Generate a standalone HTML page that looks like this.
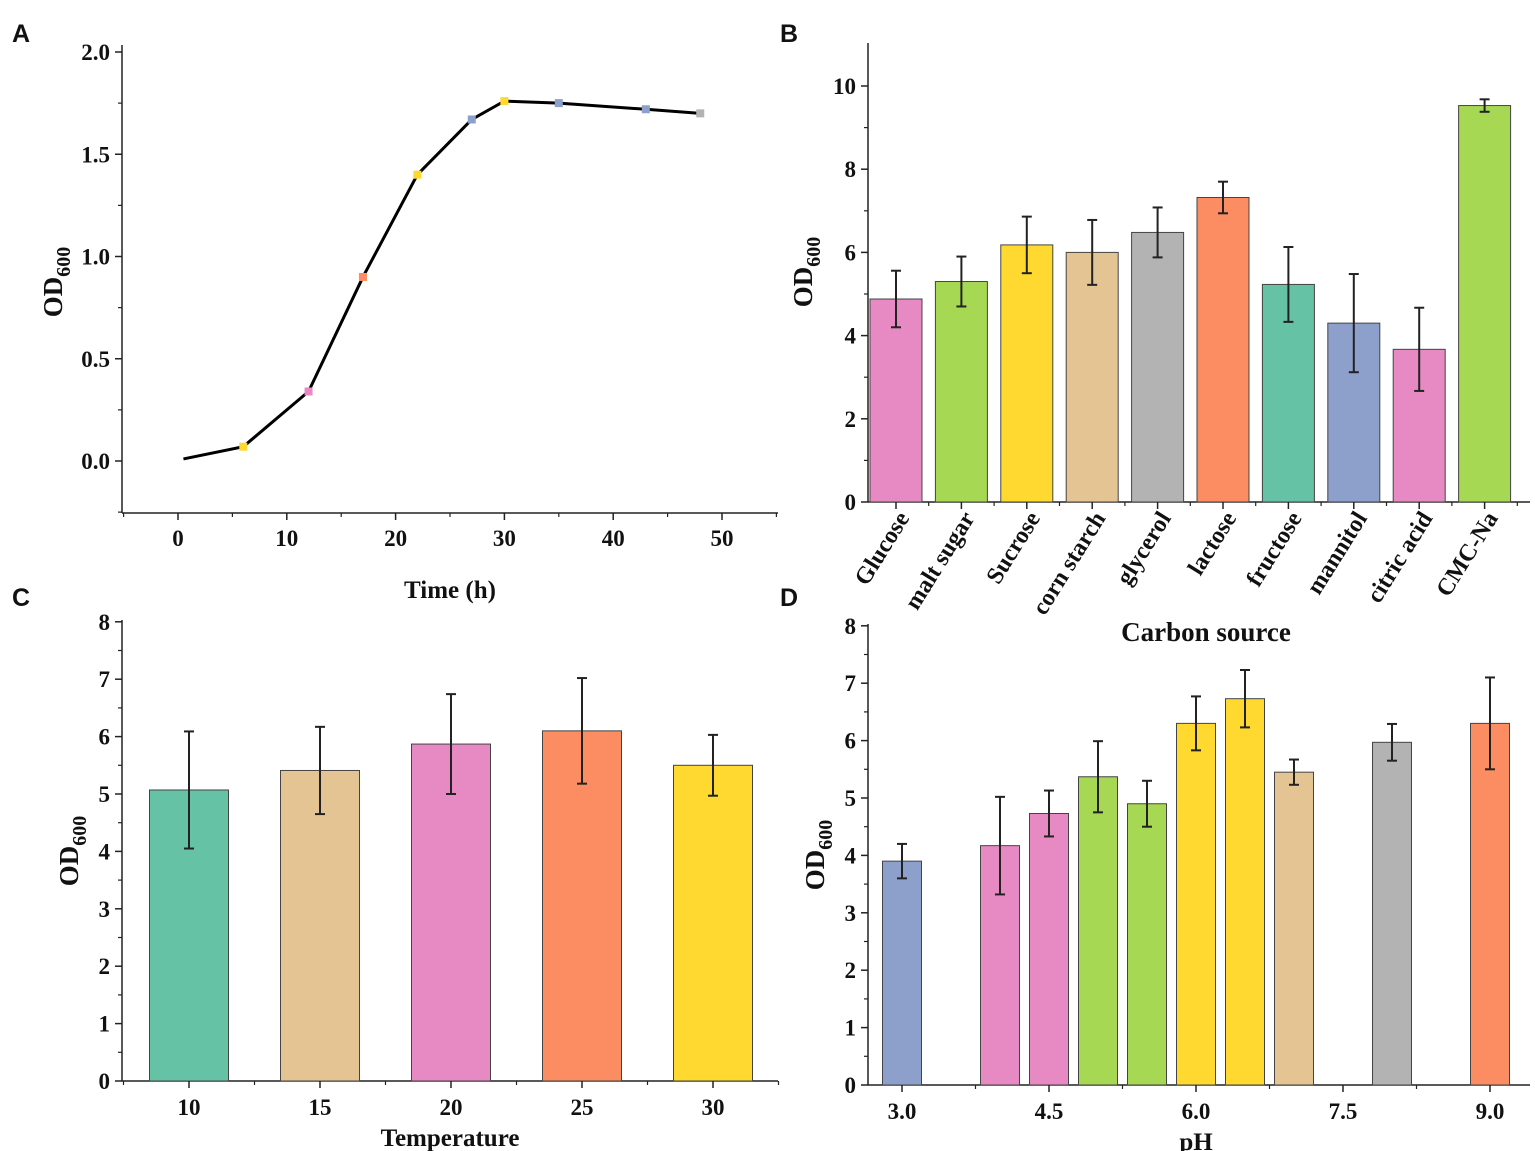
<!DOCTYPE html>
<html><head><meta charset="utf-8">
<style>
html,body{margin:0;padding:0;background:#fff;}
svg{display:block;}
.t{font-family:"Liberation Serif",serif;font-weight:bold;fill:#111;}
.p{font-family:"Liberation Sans",sans-serif;font-weight:bold;font-size:25px;fill:#111;}
</style></head>
<body>
<svg id="fig" width="1535" height="1151" viewBox="0 0 1535 1151" xmlns="http://www.w3.org/2000/svg">
<text class="p" x="12" y="42">A</text>
<text class="p" x="780" y="42">B</text>
<text class="p" x="12" y="606">C</text>
<text class="p" x="780" y="606">D</text>
</svg>
<script>
// Panel A data
const timeH = [0.5, 6, 12, 17, 22, 27, 30, 35, 43, 48];
const odA = [0.01, 0.07, 0.34, 0.90, 1.40, 1.67, 1.76, 1.75, 1.72, 1.70];
const markerColorsA = ['#222','#ffd92f','#e78ac3','#fc8d62','#ffd92f','#8da0cb','#ffd92f','#8da0cb','#8da0cb','#b3b3b3'];
const yTicksA = ['0.0','0.5','1.0','1.5','2.0'];
const xTicksA = ['0','10','20','30','40','50'];
// Panel B data
const carbonSources = ['Glucose','malt sugar','Sucrose','corn starch','glycerol','lactose','fructose','mannitol','citric acid','CMC-Na'];
const odB = [4.88, 5.30, 6.18, 6.00, 6.48, 7.32, 5.23, 4.30, 3.67, 9.53];
const errB = [0.68, 0.60, 0.68, 0.78, 0.60, 0.38, 0.90, 1.18, 1.00, 0.15];
const colorsB = ['#e78ac3','#a6d854','#ffd92f','#e5c494','#b3b3b3','#fc8d62','#66c2a5','#8da0cb','#e78ac3','#a6d854'];
const yTicksB = ['0','2','4','6','8','10'];
// Panel C data
const temps = ['10','15','20','25','30'];
const odC = [5.07, 5.41, 5.87, 6.10, 5.50];
const errC = [1.02, 0.76, 0.87, 0.92, 0.53];
const colorsC = ['#66c2a5','#e5c494','#e78ac3','#fc8d62','#ffd92f'];
const yTicksCD = ['0','1','2','3','4','5','6','7','8'];
// Panel D data
const phVals = [3.0, 4.0, 4.5, 5.0, 5.5, 6.0, 6.5, 7.0, 8.0, 9.0];
const odD = [3.90, 4.17, 4.73, 5.37, 4.90, 6.30, 6.73, 5.45, 5.97, 6.30];
const errD = [0.30, 0.85, 0.40, 0.62, 0.40, 0.47, 0.50, 0.22, 0.32, 0.80];
const colorsD = ['#8da0cb','#e78ac3','#e78ac3','#a6d854','#a6d854','#ffd92f','#ffd92f','#e5c494','#b3b3b3','#fc8d62'];
const xTicksD = ['3.0','4.5','6.0','7.5','9.0'];

const NS='http://www.w3.org/2000/svg';
const svg=document.getElementById('fig');
const TICK=23, TITLE=25;
function mk(tag,attrs,parent){const e=document.createElementNS(NS,tag);for(const k in attrs)e.setAttribute(k,attrs[k]);(parent||svg).appendChild(e);return e;}
function line(x1,y1,x2,y2,w,p){return mk('line',{x1,y1,x2,y2,stroke:'#222','stroke-width':w||1.5},p);}
function txt(s,x,y,size,anchor,p){const t=mk('text',{x,y,'font-size':size,'text-anchor':anchor||'middle',class:'t'},p);t.textContent=s;return t;}
function odTitle(g,x,y){const yt=mk('text',{x:0,y:0,'font-size':27,'text-anchor':'middle',class:'t',transform:`translate(${x},${y}) rotate(-90)`},g);
yt.innerHTML='OD<tspan font-size="20" dy="8">600</tspan>';
}

// ---------- Panel A ----------
{
const g=mk('g',{});


const xS=v=>178+v*10.88, yS=v=>461-v*204.5;
const L=122,R=778,B=513,T=45;
line(L,T,L,B,1.5,g);line(L,B,R,B,1.5,g);
yTicksA.forEach((s,i)=>{const v=+s,y=yS(v);line(L-7,y,L,y,1.5,g);const t=txt(s,L-12,y+8,TICK,'end',g);

if(i<yTicksA.length-1)line(L-4,yS(v+0.25),L,yS(v+0.25),1.2,g);});
line(L-4,yS(-0.25),L,yS(-0.25),1.2,g);
xTicksA.forEach(s=>{const v=+s,x=xS(v);line(x,B,x,B+7,1.5,g);line(xS(v+5),B,xS(v+5),B+4,1.2,g);const t=txt(s,x,B+33,TICK,'middle',g);
});
line(xS(-5),B,xS(-5),B+4,1.2,g);
const xt=txt('Time (h)',450,598,TITLE,'middle',g);

odTitle(g,62,282);
const pts=timeH.map((t,i)=>xS(t)+','+yS(odA[i])).join(' ');
const pl=mk('polyline',{points:pts,fill:'none',stroke:'#000','stroke-width':3},g);

timeH.forEach((t,i)=>{if(i===0)return;const r=mk('rect',{x:xS(t)-4,y:yS(odA[i])-4,width:8,height:8,fill:markerColorsA[i]},g);
});
}

// ---------- generic bar panel ----------
function barPanel(o){
const g=mk('g',{});


const {L,R,B,T,y0,ppu}=o;const yS=v=>y0-v*ppu;
line(L,T,L,B,1.5,g);line(L,B,R,B,1.5,g);
o.yTicks.forEach((s,i)=>{const v=+s,y=yS(v);line(L-7,y,L,y,1.5,g);const t=txt(s,L-12,y+8,TICK,'end',g);

if(i<o.yTicks.length-1){const m=yS(v+o.minor);line(L-4,m,L,m,1.2,g);}});
o.vals.forEach((v,i)=>{const cx=o.xS(i);
const r=mk('rect',{x:cx-o.bw/2,y:yS(v),width:o.bw,height:B-yS(v),fill:o.colors[i],stroke:'#444','stroke-width':1},g);

const e=o.errs[i],eg=mk('g',{},g);

line(cx,yS(v+e),cx,yS(v-e),2,eg);line(cx-5,yS(v+e),cx+5,yS(v+e),2,eg);line(cx-5,yS(v-e),cx+5,yS(v-e),2,eg);});
odTitle(g,o.ytx,o.yty);
const xt=txt(o.xTitle,o.xtx,o.xty,o.xtSize||TITLE,'middle',g);

return {g,B,L,R};
}

// ---------- Panel B ----------
{
const xS=i=>896+i*65.4;
const {g,B}=barPanel({name:'carbon-source-chart',L:868,R:1530,B:502,T:43,y0:502,ppu:41.6,minor:1,yTicks:yTicksB,vals:odB,errs:errB,colors:colorsB,bw:52,xS,ytx:812,yty:272,xTitle:'Carbon source',xtx:1206,xty:641,xtSize:27});
carbonSources.forEach((s,i)=>{const x=xS(i);line(x,B,x,B+7,1.5,g);line(x+32.7,B,x+32.7,B+4,1.2,g);
const t=mk('text',{x:0,y:0,'font-size':24,'text-anchor':'end',class:'t',transform:`translate(${x+14},${B+16}) rotate(-58)`},g);
t.textContent=s;});
}

// ---------- Panel C ----------
{
const xS=i=>189+i*131;
const {g,B}=barPanel({name:'temperature-chart',L:122,R:778,B:1081,T:620,y0:1081,ppu:57.4,minor:0.5,yTicks:yTicksCD,vals:odC,errs:errC,colors:colorsC,bw:79,xS,ytx:78,yty:851,xTitle:'Temperature',xtx:450,xty:1146});
temps.forEach((s,i)=>{const x=xS(i);line(x,B,x,B+7,1.5,g);line(x+65.5,B,x+65.5,B+4,1.2,g);
const t=txt(s,x,B+34,TICK,'middle',g);});
line(123.5,B,123.5,B+4,1.2,g);
}

// ---------- Panel D ----------
{
const px=v=>902+(v-3)*98;
const xS=i=>px(phVals[i]);
const {g,B}=barPanel({name:'ph-chart',L:868,R:1530,B:1085,T:624,y0:1085,ppu:57.4,minor:0.5,yTicks:yTicksCD,vals:odD,errs:errD,colors:colorsD,bw:39,xS,ytx:824,yty:855,xTitle:'pH',xtx:1196,xty:1150});
xTicksD.forEach(s=>{const x=px(+s);line(x,B,x,B+7,1.5,g);line(x+73.5,B,x+73.5,B+4,1.2,g);
const t=txt(s,x,B+34,TICK,'middle',g);});
}
</script>
</body></html>
